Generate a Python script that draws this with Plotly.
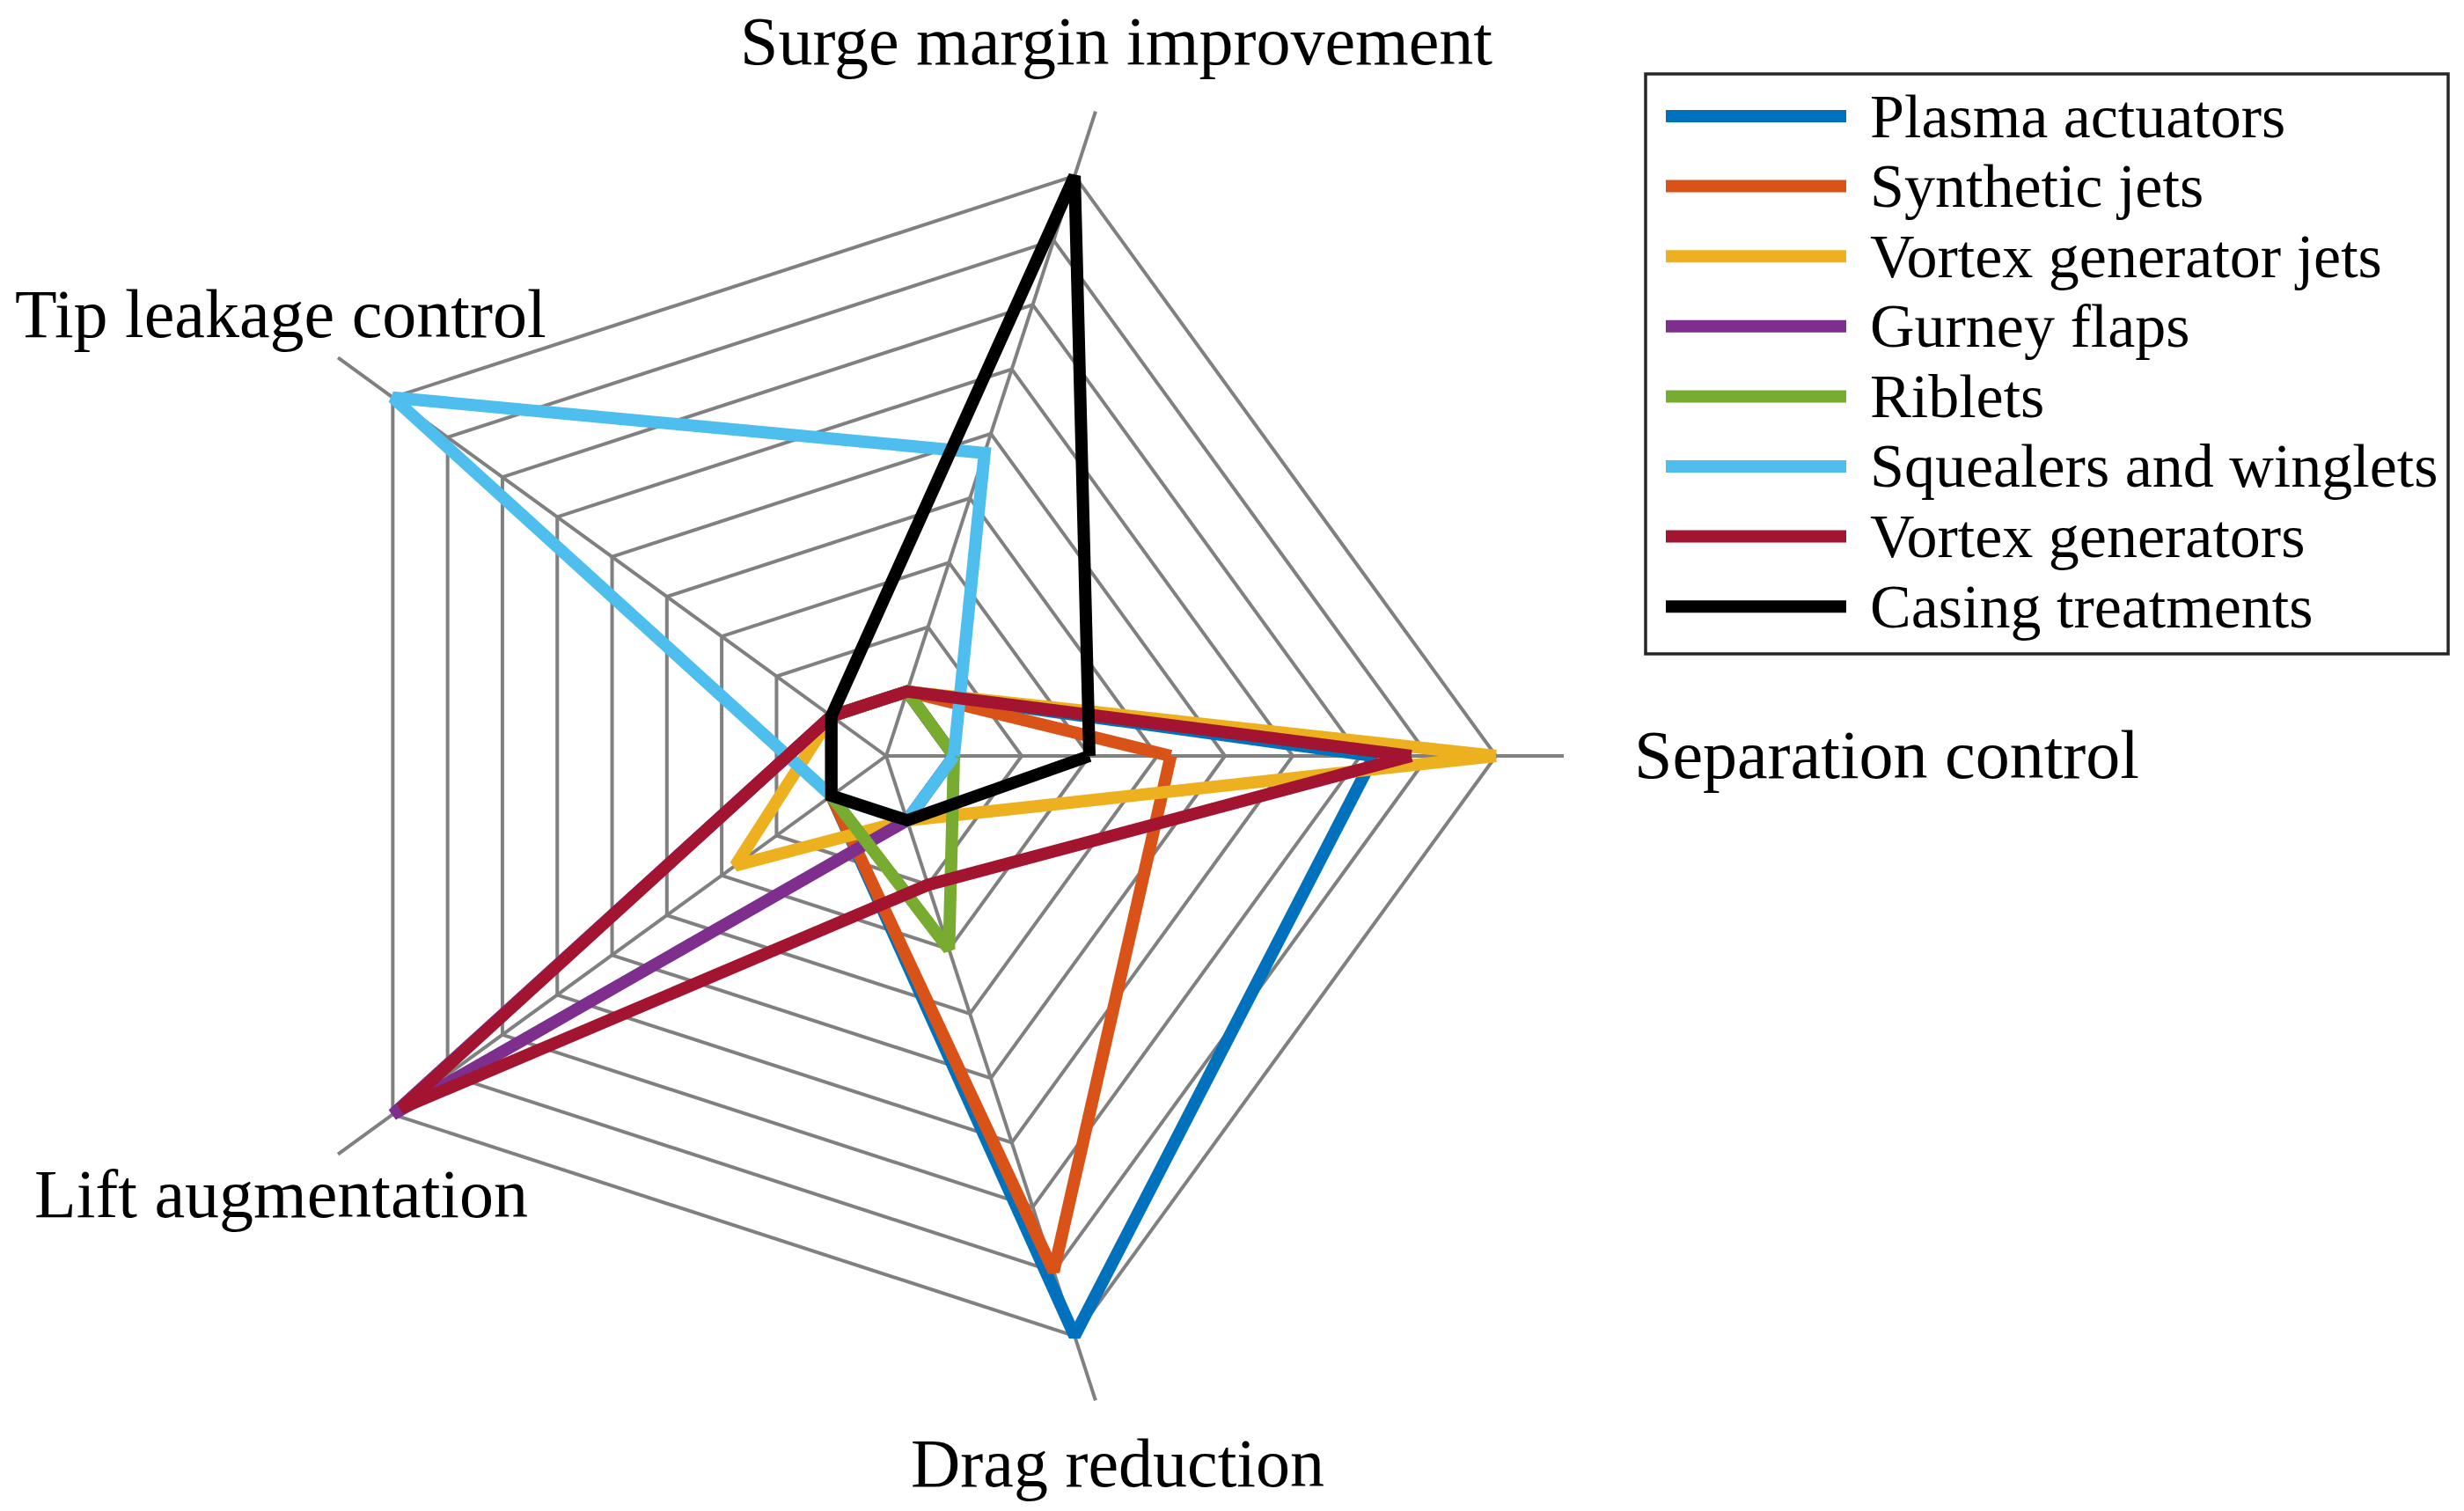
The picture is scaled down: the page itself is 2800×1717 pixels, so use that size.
import plotly.graph_objects as go

# ---------------- data ----------------
categories = ["Separation control", "Surge margin improvement",
              "Tip leakage control", "Lift augmentation", "Drag reduction"]

series_names = ["Plasma actuators", "Synthetic jets", "Vortex generator jets",
                "Gurney flaps", "Riblets", "Squealers and winglets",
                "Vortex generators", "Casing treatments"]

plasma_actuators = [7.2, 1, 1, 1, 9]
synthetic_jets = [4.2, 1, 1, 1, 8]
vortex_generator_jets = [9, 1, 1, 2.75, 1]
gurney_flaps = [1, 1, 1, 9, 1]
riblets = [1, 1, 1, 1, 3]
squealers_winglets = [1, 4.7, 9, 1, 1]
vortex_generators = [7.75, 1, 1, 8.85, 2]
casing_treatments = [3, 9, 1, 1, 1]

grid_levels = [1, 2, 3, 4, 5, 6, 7, 8, 9]
radial_max = 10

series_values = [plasma_actuators, synthetic_jets, vortex_generator_jets,
                 gurney_flaps, riblets, squealers_winglets,
                 vortex_generators, casing_treatments]

colors = ["#0072BD", "#D95319", "#EDB120", "#7E2F8E",
          "#77AC30", "#4DBEEE", "#A2142F", "#000000"]

# ---------------- figure ----------------
W, H = 2800, 1717
FONT = "Liberation Serif"
LW = 14

fig = go.Figure()
for name, vals, col in zip(series_names, series_values, colors):
    fig.add_trace(go.Scatterpolar(
        r=vals + vals[:1],
        theta=categories + categories[:1],
        mode="lines",
        name=name,
        line=dict(color=col, width=LW),
        showlegend=False,
        hoverinfo="skip",
    ))

# polar geometry (centre / radius in pixels)
cx, cy, R = 1007, 859, 770
dom_x = [(cx - R) / W, (cx + R) / W]
dom_y = [(H - cy - R) / H, (H - cy + R) / H]

grid_col = "#808080"
fig.update_layout(
    width=W, height=H,
    margin=dict(l=0, r=0, t=0, b=0),
    paper_bgcolor="white",
    plot_bgcolor="white",
    polar=dict(
        domain=dict(x=dom_x, y=dom_y),
        bgcolor="white",
        gridshape="linear",
        radialaxis=dict(range=[0, radial_max], tickvals=grid_levels,
                        showticklabels=False, ticks="", showline=False,
                        showgrid=True, gridcolor=grid_col, gridwidth=4),
        angularaxis=dict(categoryorder="array", categoryarray=categories,
                         direction="counterclockwise", rotation=0,
                         showticklabels=False, ticks="", showline=False,
                         showgrid=True, gridcolor=grid_col, gridwidth=4),
    ),
)

# axis labels
label_pos = {
    "Separation control": (1855, 857, "left"),
    "Surge margin improvement": (1268, 46, "center"),
    "Tip leakage control": (319, 356, "center"),
    "Lift augmentation": (319, 1356, "center"),
    "Drag reduction": (1270, 1662, "center"),
}
annotations = []
for cat in categories:
    px, py, xa = label_pos[cat]
    annotations.append(dict(
        text=cat, x=px / W, y=1 - py / H, xref="paper", yref="paper",
        xanchor=xa, yanchor="middle", showarrow=False,
        font=dict(family=FONT, size=78, color="black")))

# legend (drawn as a framed box with line samples)
box_l, box_r, box_t, box_b = 1870, 2782, 84, 743
row0, row_step = 132, 79.6
samp_l, samp_r, text_l = 1893, 2098, 2123
shapes = [dict(type="rect", xref="paper", yref="paper",
               x0=box_l / W, x1=box_r / W, y0=1 - box_b / H, y1=1 - box_t / H,
               line=dict(color="#262626", width=3.5), fillcolor="white",
               layer="above")]
for i, (name, col) in enumerate(zip(series_names, colors)):
    yy = row0 + i * row_step
    shapes.append(dict(type="line", xref="paper", yref="paper",
                       x0=samp_l / W, x1=samp_r / W,
                       y0=1 - yy / H, y1=1 - yy / H,
                       line=dict(color=col, width=LW), layer="above"))
    annotations.append(dict(
        text=name, x=text_l / W, y=1 - yy / H, xref="paper", yref="paper",
        xanchor="left", yanchor="middle", showarrow=False,
        font=dict(family=FONT, size=70, color="black")))

fig.update_layout(annotations=annotations, shapes=shapes)

fig.write_html("out.html",
               config={"displayModeBar": False, "staticPlot": True},
               post_script="document.body.style.margin='0px';"
                           "document.body.style.padding='0px';")
